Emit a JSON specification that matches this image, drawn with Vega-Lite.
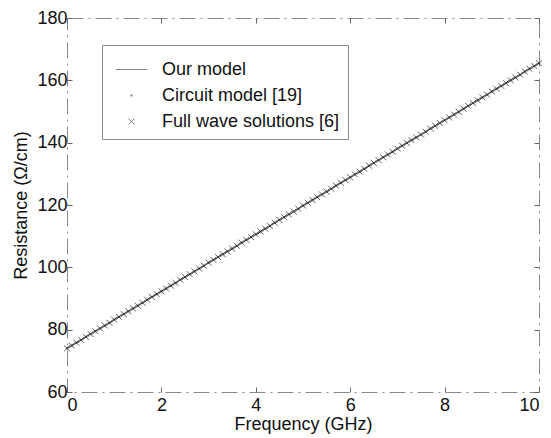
{
  "$schema": "https://vega.github.io/schema/vega-lite/v6.json",
  "width": 472,
  "height": 374,
  "autosize": {"type": "none"},
  "padding": {"left": 67, "top": 18, "right": 12, "bottom": 46},
  "background": "white",
  "config": {
    "font": "Liberation Sans",
    "view": {"stroke": "#8a8a8a", "strokeWidth": 1, "strokeDash": [16, 5, 2, 5]},
    "axis": {
      "grid": false,
      "domain": false,
      "labelFont": "Liberation Sans",
      "labelFontSize": 18,
      "labelColor": "#111",
      "titleFont": "Liberation Sans",
      "titleFontSize": 18,
      "titleFontWeight": "normal",
      "titleColor": "#111",
      "tickColor": "#666",
      "tickSize": -5
    },
    "legend": {
      "labelFont": "Liberation Sans",
      "labelFontSize": 18,
      "labelColor": "#111"
    }
  },
  "datasets": {
    "rs": [
      {"f": 0.0, "R": 74.0}, {"f": 0.1, "R": 74.9}, {"f": 0.2, "R": 75.8}, {"f": 0.3, "R": 76.7}, {"f": 0.4, "R": 77.7},
      {"f": 0.5, "R": 78.6}, {"f": 0.6, "R": 79.5}, {"f": 0.7, "R": 80.4}, {"f": 0.8, "R": 81.3}, {"f": 0.9, "R": 82.2},
      {"f": 1.0, "R": 83.2}, {"f": 1.1, "R": 84.1}, {"f": 1.2, "R": 85.0}, {"f": 1.3, "R": 85.9}, {"f": 1.4, "R": 86.8},
      {"f": 1.5, "R": 87.7}, {"f": 1.6, "R": 88.6}, {"f": 1.7, "R": 89.6}, {"f": 1.8, "R": 90.5}, {"f": 1.9, "R": 91.4},
      {"f": 2.0, "R": 92.3}, {"f": 2.1, "R": 93.2}, {"f": 2.2, "R": 94.1}, {"f": 2.3, "R": 95.0}, {"f": 2.4, "R": 96.0},
      {"f": 2.5, "R": 96.9}, {"f": 2.6, "R": 97.8}, {"f": 2.7, "R": 98.7}, {"f": 2.8, "R": 99.6}, {"f": 2.9, "R": 100.5},
      {"f": 3.0, "R": 101.5}, {"f": 3.1, "R": 102.4}, {"f": 3.2, "R": 103.3}, {"f": 3.3, "R": 104.2}, {"f": 3.4, "R": 105.1},
      {"f": 3.5, "R": 106.0}, {"f": 3.6, "R": 106.9}, {"f": 3.7, "R": 107.9}, {"f": 3.8, "R": 108.8}, {"f": 3.9, "R": 109.7},
      {"f": 4.0, "R": 110.6}, {"f": 4.1, "R": 111.5}, {"f": 4.2, "R": 112.4}, {"f": 4.3, "R": 113.3}, {"f": 4.4, "R": 114.3},
      {"f": 4.5, "R": 115.2}, {"f": 4.6, "R": 116.1}, {"f": 4.7, "R": 117.0}, {"f": 4.8, "R": 117.9}, {"f": 4.9, "R": 118.8},
      {"f": 5.0, "R": 119.8}, {"f": 5.1, "R": 120.7}, {"f": 5.2, "R": 121.6}, {"f": 5.3, "R": 122.5}, {"f": 5.4, "R": 123.4},
      {"f": 5.5, "R": 124.3}, {"f": 5.6, "R": 125.2}, {"f": 5.7, "R": 126.2}, {"f": 5.8, "R": 127.1}, {"f": 5.9, "R": 128.0},
      {"f": 6.0, "R": 128.9}, {"f": 6.1, "R": 129.8}, {"f": 6.2, "R": 130.7}, {"f": 6.3, "R": 131.6}, {"f": 6.4, "R": 132.6},
      {"f": 6.5, "R": 133.5}, {"f": 6.6, "R": 134.4}, {"f": 6.7, "R": 135.3}, {"f": 6.8, "R": 136.2}, {"f": 6.9, "R": 137.1},
      {"f": 7.0, "R": 138.1}, {"f": 7.1, "R": 139.0}, {"f": 7.2, "R": 139.9}, {"f": 7.3, "R": 140.8}, {"f": 7.4, "R": 141.7},
      {"f": 7.5, "R": 142.6}, {"f": 7.6, "R": 143.5}, {"f": 7.7, "R": 144.5}, {"f": 7.8, "R": 145.4}, {"f": 7.9, "R": 146.3},
      {"f": 8.0, "R": 147.2}, {"f": 8.1, "R": 148.1}, {"f": 8.2, "R": 149.0}, {"f": 8.3, "R": 149.9}, {"f": 8.4, "R": 150.9},
      {"f": 8.5, "R": 151.8}, {"f": 8.6, "R": 152.7}, {"f": 8.7, "R": 153.6}, {"f": 8.8, "R": 154.5}, {"f": 8.9, "R": 155.4},
      {"f": 9.0, "R": 156.4}, {"f": 9.1, "R": 157.3}, {"f": 9.2, "R": 158.2}, {"f": 9.3, "R": 159.1}, {"f": 9.4, "R": 160.0},
      {"f": 9.5, "R": 160.9}, {"f": 9.6, "R": 161.8}, {"f": 9.7, "R": 162.8}, {"f": 9.8, "R": 163.7}, {"f": 9.9, "R": 164.6},
      {"f": 10.0, "R": 165.5}
    ]
  },
  "data": {"name": "rs"},
  "layer": [
    {
      "mark": {"type": "line", "color": "#555", "strokeWidth": 1},
      "encoding": {
        "x": {"field": "f", "type": "quantitative", "scale": {"domain": [0, 10], "nice": false},
              "axis": {"orient": "bottom", "values": [0, 2, 4, 6, 8, 10], "title": "Frequency (GHz)", "labelPadding": 9, "titlePadding": 1}},
        "y": {"field": "R", "type": "quantitative", "scale": {"domain": [60, 180], "nice": false},
              "axis": {"orient": "left", "values": [60, 80, 100, 120, 140, 160, 180], "title": "Resistance (Ω/cm)", "labelPadding": 5, "titlePadding": 6}}
      }
    },
    {
      "mark": {"type": "line", "strokeOpacity": 0},
      "encoding": {
        "x": {"field": "f", "type": "quantitative", "axis": {"orient": "top", "values": [0, 2, 4, 6, 8, 10], "labels": false, "title": null}},
        "y": {"field": "R", "type": "quantitative", "axis": {"orient": "right", "values": [60, 80, 100, 120, 140, 160, 180], "labels": false, "title": null}}
      }
    },
    {
      "mark": {"type": "point", "filled": false, "color": "#333", "strokeWidth": 1, "size": 1000},
      "encoding": {
        "x": {"field": "f", "type": "quantitative", "axis": null},
        "y": {"field": "R", "type": "quantitative", "axis": null},
        "shape": {"datum": "circuit", "type": "nominal",
                  "scale": {"domain": ["ours", "circuit", "fullwave"],
                            "range": ["M-1,0L1,0", "M-0.04,-0.04L0.04,-0.04L0.04,0.04L-0.04,0.04Z", "M-0.19,-0.19L0.19,0.19M-0.19,0.19L0.19,-0.19"]},
                  "legend": {"orient": "none", "legendX": 35, "legendY": 27, "title": null, "labelLimit": 400,
                             "labelExpr": "datum.label == 'ours' ? 'Our model' : datum.label == 'circuit' ? 'Circuit model [19]' : 'Full wave solutions [6]'",
                             "strokeColor": "#8a8a8a", "padding": 8, "rowPadding": -11, "labelOffset": 14, "symbolSize": 1000, "symbolOffset": 5,
                             "symbolStrokeColor": "#555", "symbolStrokeWidth": 1, "symbolFillColor": "transparent"}}
      }
    },
    {
      "mark": {"type": "point", "filled": false, "color": "#222", "strokeWidth": 1, "size": 1000},
      "encoding": {
        "x": {"field": "f", "type": "quantitative", "axis": null},
        "y": {"field": "R", "type": "quantitative", "axis": null},
        "shape": {"datum": "fullwave", "type": "nominal"}
      }
    }
  ]
}
